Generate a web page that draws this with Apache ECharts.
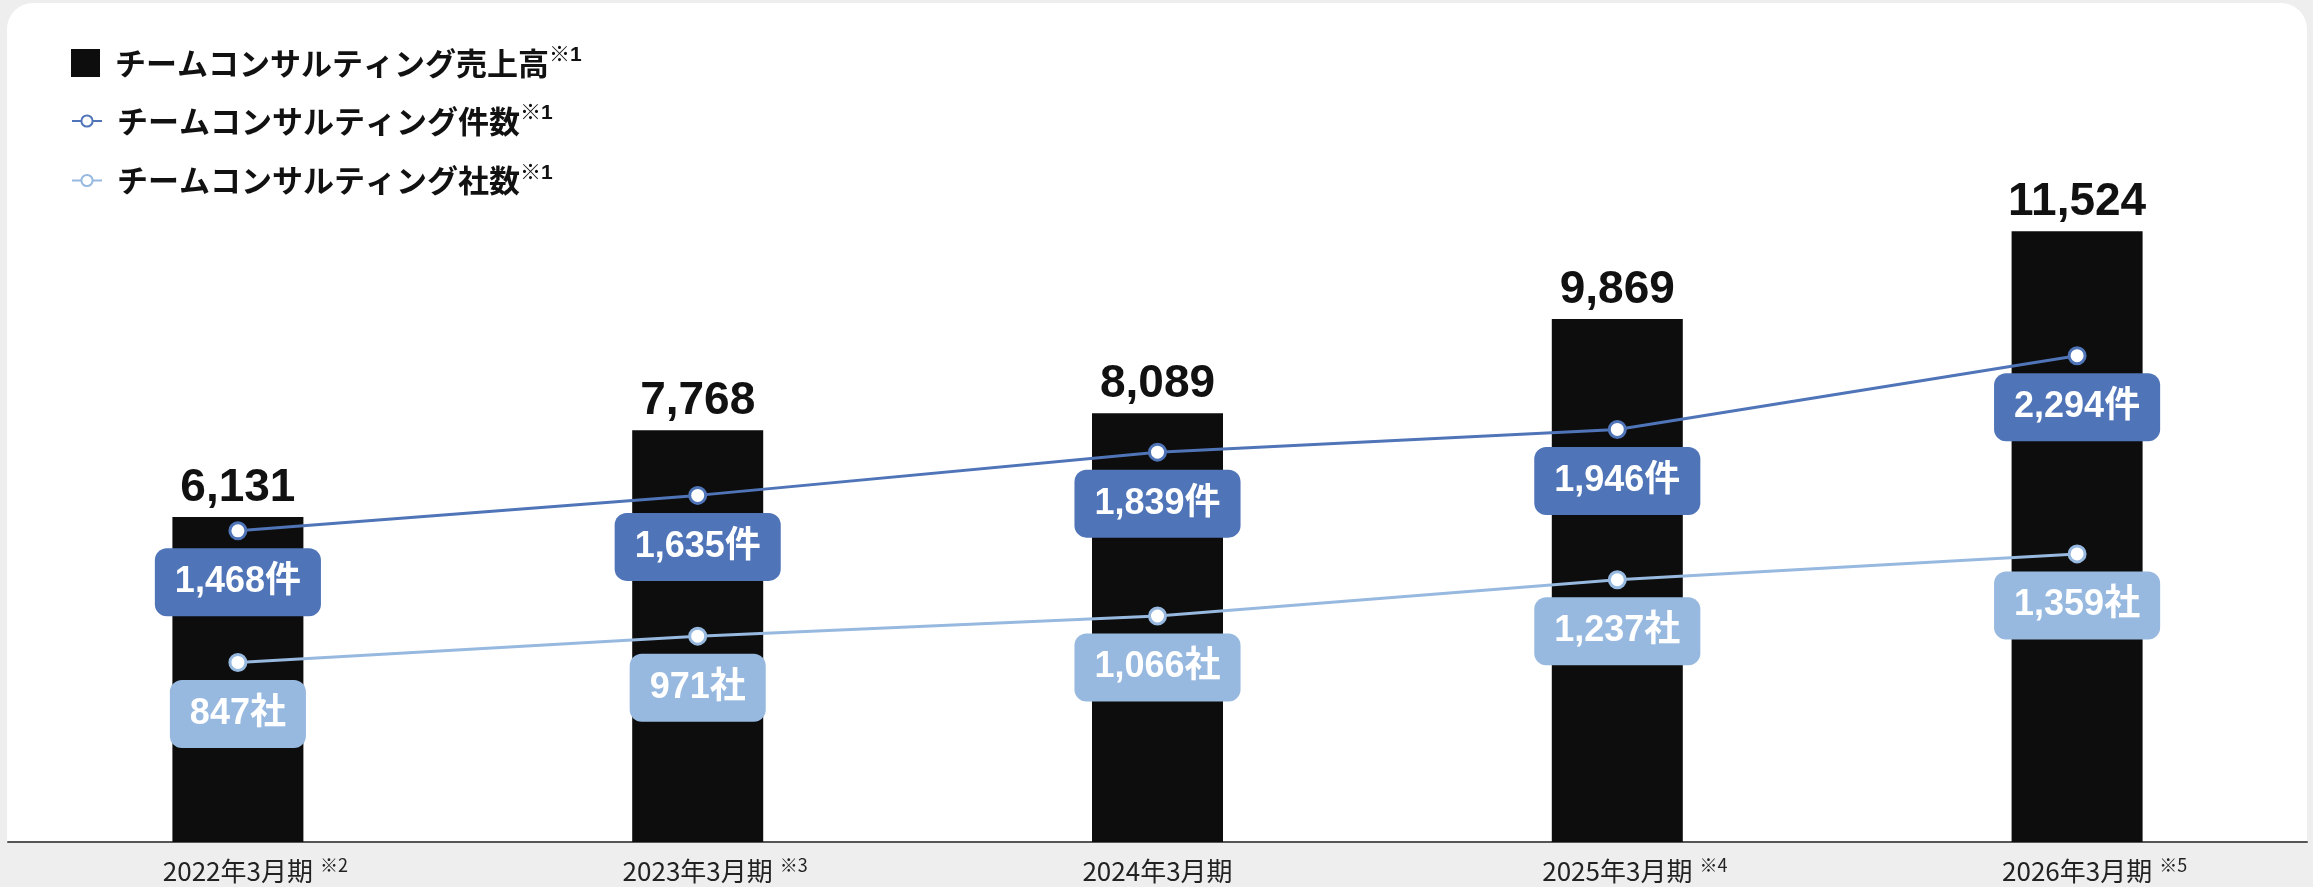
<!DOCTYPE html>
<html>
<head>
<meta charset="utf-8">
<script src="https://cdn.jsdelivr.net/npm/echarts@6/dist/echarts.min.js"></script>
<style>
html,body{margin:0;padding:0;background:#eeeeee;}
#chart{width:2313px;height:887px;}
</style>
</head>
<body>
<div id="chart"></div>
<script>
// 年度と注記
var categories = ['2022年3月期', '2023年3月期', '2024年3月期', '2025年3月期', '2026年3月期'];
var notes = ['※2', '※3', '', '※4', '※5'];
// 売上高・件数・社数
var sales = [6131, 7768, 8089, 9869, 11524];
var cases = [1468, 1635, 1839, 1946, 2294];
var companies = [847, 971, 1066, 1237, 1359];

var nameSales = 'チームコンサルティング売上高';
var nameCases = 'チームコンサルティング件数';
var nameCompanies = 'チームコンサルティング社数';

var numFont = "'Liberation Sans', 'Noto Sans CJK JP', sans-serif";
var jpFont = "'Noto Sans CJK JP', sans-serif";
var blue = '#4f74b8';
var lightBlue = '#97b9e0';

var legendText = {
    fontFamily: jpFont,
    padding: [0, 0, 0, 10],
    rich: {
        a: {fontSize: 31, fontWeight: 'bold', color: '#111', fontFamily: jpFont, lineHeight: 36},
        s: {fontSize: 21, fontWeight: 'bold', color: '#111', fontFamily: numFont, verticalAlign: 'top', lineHeight: 34}
    }
};
function legendFormat(name){
    return '{a|' + name + '}{s|※1}';
}

function lineLabel(color, unit){
    return {
        show: true,
        position: 'bottom',
        distance: 8,
        color: '#fff',
        fontFamily: numFont,
        fontWeight: 'bold',
        fontSize: 36,
        lineHeight: 40,
        backgroundColor: color,
        borderRadius: 12,
        padding: [14, 20],
        formatter: function(p){ return echarts.format.addCommas(p.value) + unit; }
    };
}

var myChart = echarts.init(document.getElementById('chart'));
var option = {
    backgroundColor: '#eeeeee',
    animation: false,
    graphic: [{
        type: 'rect',
        z: 0,
        silent: true,
        shape: {x: 7, y: 3, width: 2300, height: 839, r: [26, 26, 0, 0]},
        style: {fill: '#ffffff'}
    }],
    legend: [{
        data: [{name: nameSales, icon: 'rect'}],
        left: 66,
        top: 40,
        itemWidth: 29,
        itemHeight: 28,
        formatter: legendFormat,
        textStyle: legendText
    }, {
        data: [nameCases, nameCompanies],
        orient: 'vertical',
        left: 66,
        top: 98,
        itemWidth: 30,
        itemHeight: 14,
        itemGap: 26,
        formatter: legendFormat,
        textStyle: legendText
    }],
    grid: {left: 8, right: 6, top: 100, bottom: 45},
    xAxis: {
        type: 'category',
        data: categories,
        axisTick: {show: false},
        axisLine: {lineStyle: {color: '#555', width: 2}},
        axisLabel: {
            margin: 14,
            formatter: function(value, index){
                var n = notes[index];
                if(!n){
                    return '{m|' + value + '}';
                }
                return '{h|' + n + '}{m|' + value + '}{s|' + n + '}';
            },
            rich: {
                m: {fontSize: 26, color: '#222', fontFamily: jpFont, lineHeight: 30},
                s: {fontSize: 18, color: '#222', fontFamily: jpFont, verticalAlign: 'top', lineHeight: 26, padding: [0, 0, 0, 7]},
                h: {fontSize: 18, color: 'rgba(0,0,0,0)', fontFamily: jpFont, verticalAlign: 'top', lineHeight: 26, padding: [0, 7, 0, 0]}
            }
        }
    },
    yAxis: [
        {type: 'value', min: 0, max: 14000, show: false, splitLine: {show: false}},
        {type: 'value', min: 0, max: 3500, show: false, splitLine: {show: false}}
    ],
    series: [{
        name: nameSales,
        type: 'bar',
        data: sales,
        barWidth: 131,
        itemStyle: {color: '#0d0d0d'},
        label: {
            show: true,
            position: 'top',
            distance: 6,
            color: '#111',
            fontFamily: numFont,
            fontWeight: 'bold',
            fontSize: 46,
            formatter: function(p){ return echarts.format.addCommas(p.value); }
        }
    }, {
        name: nameCases,
        type: 'line',
        yAxisIndex: 1,
        data: cases,
        symbol: 'circle',
        symbolSize: 16,
        z: 4,
        lineStyle: {color: blue, width: 3},
        itemStyle: {color: '#fff', borderColor: blue, borderWidth: 3},
        label: lineLabel(blue, '件')
    }, {
        name: nameCompanies,
        type: 'line',
        yAxisIndex: 1,
        data: companies,
        symbol: 'circle',
        symbolSize: 16,
        z: 3,
        lineStyle: {color: lightBlue, width: 3},
        itemStyle: {color: '#fff', borderColor: lightBlue, borderWidth: 3},
        label: lineLabel(lightBlue, '社')
    }]
};
myChart.setOption(option);
</script>
</body>
</html>
